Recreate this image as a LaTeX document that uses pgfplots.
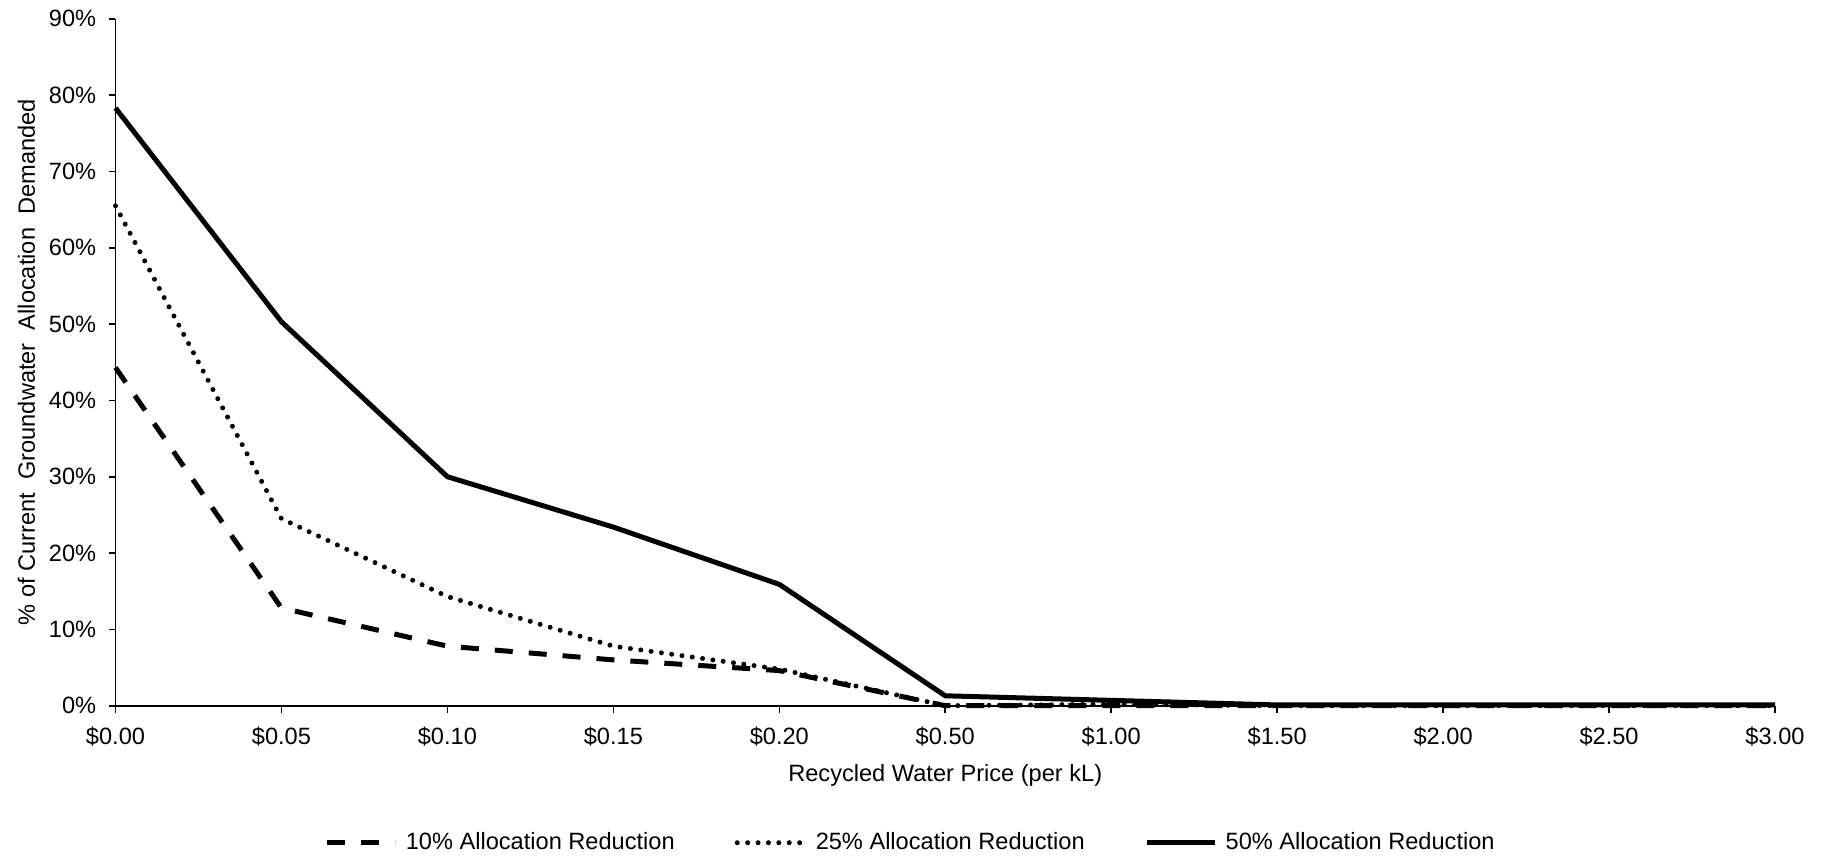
\documentclass[border=0pt]{standalone}
\usepackage{pgfplots}
\pgfplotsset{compat=1.18}
\usepackage{fontspec}
\setmainfont{Liberation Sans}
\begin{document}
\fontsize{11.8}{14}\selectfont
\begin{tikzpicture}
\path[use as bounding box] (-57.75pt,-76.15pt) rectangle (856.75pt,352.85pt);
\begin{axis}[
  at={(0pt,0pt)}, anchor=south west,
  scale only axis, width=829.75pt, height=343.5pt,
  xmin=0, xmax=10, ymin=0, ymax=90,
  axis x line*=bottom, axis y line*=left,
  axis line style={line width=0.8pt, -},
  tick align=outside, tick style={line width=0.8pt, black},
  major tick length=3.5pt,
  xtick={0,...,10},
  xticklabels={\$0.00,\$0.05,\$0.10,\$0.15,\$0.20,\$0.50,\$1.00,\$1.50,\$2.00,\$2.50,\$3.00},
  ytick={0,10,...,90},
  yticklabels={0\%,10\%,20\%,30\%,40\%,50\%,60\%,70\%,80\%,90\%},
  /pgf/number format/assume math mode=true,
  ticklabel style={font=\fontsize{11.8}{14}\selectfont},
  xticklabel style={yshift=-3pt},
  yticklabel style={xshift=-2pt},
  xlabel={Recycled Water Price (per kL)},
  ylabel={\%\ of Current\ \ Groundwater\ \ Allocation\ \ Demanded},
  label style={font=\fontsize{11.8}{14}\selectfont},
  xlabel style={at={(axis description cs:0.5,0)}, anchor=center, yshift=-35pt},
  ylabel style={at={(axis description cs:0,0.5)}, anchor=center, yshift=44.5pt},
  legend style={at={(0.481,0)}, anchor=center, yshift=-68.5pt, draw=none, fill=none,
    legend columns=3, font=\fontsize{11.8}{14}\selectfont,
    nodes={inner xsep=4pt},
    /tikz/every even column/.append style={column sep=26pt}},
  legend image code/.code={\draw[#1] (0pt,0pt) -- (34pt,0pt);},
  clip=false,
]
\addplot[black, line width=2.5pt, dash pattern=on 9pt off 8pt] coordinates {
(0,44.3) (1,12.8) (2,7.8) (3,6.0) (4,4.6) (5,0) (6,0) (7,0) (8,0) (9,0) (10,0)};
\addlegendentry{10\% Allocation Reduction}
\addplot[black, line width=2.5pt, line cap=round, dash pattern=on 0pt off 5.2pt] coordinates {
(0,65.5) (1,24.5) (2,14.3) (3,7.8) (4,4.8) (5,0) (6,0.2) (7,0) (8,0) (9,0) (10,0)};
\addlegendentry{25\% Allocation Reduction}
\addplot[black, line width=2.5pt] coordinates {
(0,78.3) (1,50.3) (2,30.0) (3,23.4) (4,15.9) (5,1.3) (6,0.7) (7,0.1) (8,0.1) (9,0.1) (10,0.1)};
\addlegendentry{50\% Allocation Reduction}
\end{axis}
\end{tikzpicture}
\end{document}
